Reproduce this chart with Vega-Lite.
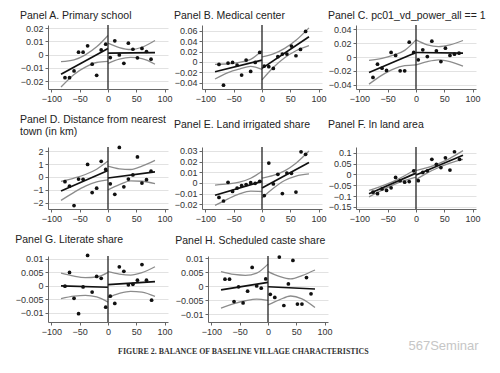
{
"$schema": "https://vega.github.io/schema/vega-lite/v6.json",
"background": "white",
"padding": {"left": 15, "top": 10, "right": 10, "bottom": 6},
"data": {"values": [
{"p":"A","k":"p","x":-76,"y":-0.0175},{"p":"A","k":"p","x":-68,"y":-0.0175},{"p":"A","k":"p","x":-60,"y":-0.0124},{"p":"A","k":"p","x":-52,"y":0.0018},{"p":"A","k":"p","x":-44,"y":0.0018},{"p":"A","k":"p","x":-36,"y":0.0066},{"p":"A","k":"p","x":-28,"y":-0.0073},{"p":"A","k":"p","x":-20,"y":-0.0157},{"p":"A","k":"p","x":-12,"y":0.0035},{"p":"A","k":"p","x":-4,"y":0.0078},
{"p":"A","k":"p","x":4,"y":-0.0023},{"p":"A","k":"p","x":12,"y":0.0104},{"p":"A","k":"p","x":20,"y":-0.0003},{"p":"A","k":"p","x":28,"y":-0.0066},{"p":"A","k":"p","x":36,"y":0.0086},{"p":"A","k":"p","x":44,"y":0.004},{"p":"A","k":"p","x":52,"y":-0.0025},{"p":"A","k":"p","x":60,"y":0.0046},{"p":"A","k":"p","x":68,"y":0.0023},{"p":"A","k":"p","x":76,"y":-0.0035},
{"p":"A","k":"f","g":"L","x":-83,"y":-0.0149},{"p":"A","k":"f","g":"L","x":0,"y":0.0046},{"p":"A","k":"f","g":"R","x":0,"y":0.001},{"p":"A","k":"f","g":"R","x":83,"y":0.0015},
{"p":"A","k":"c","g":"Lu","x":-83,"y":-0.0053},{"p":"A","k":"c","g":"Lu","x":-60,"y":-0.004},{"p":"A","k":"c","g":"Lu","x":-40,"y":-0.0002},{"p":"A","k":"c","g":"Lu","x":-20,"y":0.0058},{"p":"A","k":"c","g":"Lu","x":0,"y":0.0144},
{"p":"A","k":"c","g":"Ll","x":-83,"y":-0.0245},{"p":"A","k":"c","g":"Ll","x":-60,"y":-0.015},{"p":"A","k":"c","g":"Ll","x":-40,"y":-0.0095},{"p":"A","k":"c","g":"Ll","x":-20,"y":-0.006},{"p":"A","k":"c","g":"Ll","x":0,"y":-0.0052},
{"p":"A","k":"c","g":"Ru","x":0,"y":0.0086},{"p":"A","k":"c","g":"Ru","x":20,"y":0.0053},{"p":"A","k":"c","g":"Ru","x":40,"y":0.0038},{"p":"A","k":"c","g":"Ru","x":60,"y":0.0055},{"p":"A","k":"c","g":"Ru","x":83,"y":0.0106},
{"p":"A","k":"c","g":"Rl","x":0,"y":-0.0066},{"p":"A","k":"c","g":"Rl","x":20,"y":-0.0035},{"p":"A","k":"c","g":"Rl","x":40,"y":-0.0022},{"p":"A","k":"c","g":"Rl","x":60,"y":-0.003},{"p":"A","k":"c","g":"Rl","x":83,"y":-0.0073},

{"p":"B","k":"p","x":-76,"y":-0.0047},{"p":"B","k":"p","x":-68,"y":-0.0446},{"p":"B","k":"p","x":-60,"y":-0.0022},{"p":"B","k":"p","x":-52,"y":-0.0009},{"p":"B","k":"p","x":-44,"y":-0.006},{"p":"B","k":"p","x":-36,"y":-0.0253},{"p":"B","k":"p","x":-28,"y":0.0036},{"p":"B","k":"p","x":-20,"y":-0.0182},{"p":"B","k":"p","x":-12,"y":-0.0009},{"p":"B","k":"p","x":-4,"y":0.0183},
{"p":"B","k":"p","x":4,"y":-0.008},{"p":"B","k":"p","x":12,"y":-0.0092},{"p":"B","k":"p","x":20,"y":-0.0124},{"p":"B","k":"p","x":28,"y":0.01},{"p":"B","k":"p","x":36,"y":0.0151},{"p":"B","k":"p","x":44,"y":0.0151},{"p":"B","k":"p","x":52,"y":0.0305},{"p":"B","k":"p","x":60,"y":0.0119},{"p":"B","k":"p","x":68,"y":0.0241},{"p":"B","k":"p","x":77,"y":0.0587},
{"p":"B","k":"f","g":"L","x":-83,"y":-0.0188},{"p":"B","k":"f","g":"L","x":0,"y":0.0036},{"p":"B","k":"f","g":"R","x":0,"y":-0.0124},{"p":"B","k":"f","g":"R","x":83,"y":0.0485},
{"p":"B","k":"c","g":"Lu","x":-83,"y":-0.0048},{"p":"B","k":"c","g":"Lu","x":-60,"y":-0.0035},{"p":"B","k":"c","g":"Lu","x":-40,"y":-0.0007},{"p":"B","k":"c","g":"Lu","x":-20,"y":0.005},{"p":"B","k":"c","g":"Lu","x":0,"y":0.0215},
{"p":"B","k":"c","g":"Ll","x":-83,"y":-0.0328},{"p":"B","k":"c","g":"Ll","x":-60,"y":-0.0205},{"p":"B","k":"c","g":"Ll","x":-40,"y":-0.0137},{"p":"B","k":"c","g":"Ll","x":-20,"y":-0.0086},{"p":"B","k":"c","g":"Ll","x":0,"y":-0.0144},
{"p":"B","k":"c","g":"Ru","x":0,"y":0.0096},{"p":"B","k":"c","g":"Ru","x":20,"y":0.0153},{"p":"B","k":"c","g":"Ru","x":40,"y":0.026},{"p":"B","k":"c","g":"Ru","x":60,"y":0.0416},{"p":"B","k":"c","g":"Ru","x":83,"y":0.0655},
{"p":"B","k":"c","g":"Rl","x":0,"y":-0.0344},{"p":"B","k":"c","g":"Rl","x":20,"y":-0.0107},{"p":"B","k":"c","g":"Rl","x":40,"y":0.008},{"p":"B","k":"c","g":"Rl","x":60,"y":0.0216},{"p":"B","k":"c","g":"Rl","x":83,"y":0.0315},

{"p":"C","k":"p","x":-76,"y":-0.0294},{"p":"C","k":"p","x":-68,"y":-0.0103},{"p":"C","k":"p","x":-60,"y":-0.016},{"p":"C","k":"p","x":-52,"y":-0.0194},{"p":"C","k":"p","x":-44,"y":0.0065},{"p":"C","k":"p","x":-36,"y":0.0022},{"p":"C","k":"p","x":-28,"y":-0.0199},{"p":"C","k":"p","x":-20,"y":-0.0199},{"p":"C","k":"p","x":-12,"y":0.0213},{"p":"C","k":"p","x":-4,"y":0.0065},
{"p":"C","k":"p","x":4,"y":-0.004},{"p":"C","k":"p","x":12,"y":0.0103},{"p":"C","k":"p","x":20,"y":0.0007},{"p":"C","k":"p","x":28,"y":0.0227},{"p":"C","k":"p","x":36,"y":0.0089},{"p":"C","k":"p","x":44,"y":-0.0065},{"p":"C","k":"p","x":52,"y":0.0127},{"p":"C","k":"p","x":60,"y":0.0022},{"p":"C","k":"p","x":68,"y":0.0041},{"p":"C","k":"p","x":76,"y":0.0055},
{"p":"C","k":"f","g":"L","x":-83,"y":-0.0222},{"p":"C","k":"f","g":"L","x":0,"y":0.0065},{"p":"C","k":"f","g":"R","x":0,"y":0.0065},{"p":"C","k":"f","g":"R","x":83,"y":0.0055},
{"p":"C","k":"c","g":"Lu","x":-83,"y":-0.005},{"p":"C","k":"c","g":"Lu","x":-60,"y":-0.002},{"p":"C","k":"c","g":"Lu","x":-40,"y":0.0027},{"p":"C","k":"c","g":"Lu","x":-20,"y":0.0095},{"p":"C","k":"c","g":"Lu","x":0,"y":0.0246},
{"p":"C","k":"c","g":"Ll","x":-83,"y":-0.039},{"p":"C","k":"c","g":"Ll","x":-60,"y":-0.026},{"p":"C","k":"c","g":"Ll","x":-40,"y":-0.0173},{"p":"C","k":"c","g":"Ll","x":-20,"y":-0.0125},{"p":"C","k":"c","g":"Ll","x":0,"y":-0.0112},
{"p":"C","k":"c","g":"Ru","x":0,"y":0.0246},{"p":"C","k":"c","g":"Ru","x":20,"y":0.0175},{"p":"C","k":"c","g":"Ru","x":40,"y":0.015},{"p":"C","k":"c","g":"Ru","x":60,"y":0.0175},{"p":"C","k":"c","g":"Ru","x":83,"y":0.0237},
{"p":"C","k":"c","g":"Rl","x":0,"y":-0.0112},{"p":"C","k":"c","g":"Rl","x":20,"y":-0.0065},{"p":"C","k":"c","g":"Rl","x":40,"y":-0.004},{"p":"C","k":"c","g":"Rl","x":60,"y":-0.0065},{"p":"C","k":"c","g":"Rl","x":83,"y":-0.013},

{"p":"D","k":"p","x":-76,"y":-0.37},{"p":"D","k":"p","x":-68,"y":-0.71},{"p":"D","k":"p","x":-60,"y":-2.21},{"p":"D","k":"p","x":-52,"y":-0.16},{"p":"D","k":"p","x":-44,"y":-0.18},{"p":"D","k":"p","x":-36,"y":0.97},{"p":"D","k":"p","x":-28,"y":-1.21},{"p":"D","k":"p","x":-20,"y":-0.87},{"p":"D","k":"p","x":-12,"y":1.21},{"p":"D","k":"p","x":-4,"y":0.58},
{"p":"D","k":"p","x":4,"y":-0.53},{"p":"D","k":"p","x":12,"y":-1.34},{"p":"D","k":"p","x":20,"y":2.29},{"p":"D","k":"p","x":28,"y":-0.76},{"p":"D","k":"p","x":36,"y":-0.16},{"p":"D","k":"p","x":44,"y":0.16},{"p":"D","k":"p","x":52,"y":1.55},{"p":"D","k":"p","x":60,"y":-0.47},{"p":"D","k":"p","x":68,"y":-0.21},{"p":"D","k":"p","x":76,"y":0.45},
{"p":"D","k":"f","g":"L","x":-83,"y":-1.08},{"p":"D","k":"f","g":"L","x":0,"y":0.5},{"p":"D","k":"f","g":"R","x":0,"y":-0.08},{"p":"D","k":"f","g":"R","x":83,"y":0.39},
{"p":"D","k":"c","g":"Lu","x":-83,"y":-0.35},{"p":"D","k":"c","g":"Lu","x":-60,"y":-0.09},{"p":"D","k":"c","g":"Lu","x":-40,"y":0.19},{"p":"D","k":"c","g":"Lu","x":-20,"y":0.6},{"p":"D","k":"c","g":"Lu","x":0,"y":1.23},
{"p":"D","k":"c","g":"Ll","x":-83,"y":-1.81},{"p":"D","k":"c","g":"Ll","x":-60,"y":-1.19},{"p":"D","k":"c","g":"Ll","x":-40,"y":-0.71},{"p":"D","k":"c","g":"Ll","x":-20,"y":-0.38},{"p":"D","k":"c","g":"Ll","x":0,"y":-0.23},
{"p":"D","k":"c","g":"Ru","x":0,"y":0.84},{"p":"D","k":"c","g":"Ru","x":20,"y":0.63},{"p":"D","k":"c","g":"Ru","x":40,"y":0.58},{"p":"D","k":"c","g":"Ru","x":60,"y":0.84},{"p":"D","k":"c","g":"Ru","x":83,"y":1.29},
{"p":"D","k":"c","g":"Rl","x":0,"y":-1.0},{"p":"D","k":"c","g":"Rl","x":20,"y":-0.6},{"p":"D","k":"c","g":"Rl","x":40,"y":-0.3},{"p":"D","k":"c","g":"Rl","x":60,"y":-0.33},{"p":"D","k":"c","g":"Rl","x":83,"y":-0.52},

{"p":"E","k":"p","x":-76,"y":-0.0137},{"p":"E","k":"p","x":-68,"y":-0.017},{"p":"E","k":"p","x":-60,"y":0.0005},{"p":"E","k":"p","x":-52,"y":-0.008},{"p":"E","k":"p","x":-44,"y":-0.0049},{"p":"E","k":"p","x":-36,"y":-0.0025},{"p":"E","k":"p","x":-28,"y":-0.0016},{"p":"E","k":"p","x":-20,"y":0.0002},{"p":"E","k":"p","x":-12,"y":-0.0004},{"p":"E","k":"p","x":-4,"y":0.0014},
{"p":"E","k":"p","x":4,"y":-0.0119},{"p":"E","k":"p","x":12,"y":0.0185},{"p":"E","k":"p","x":20,"y":-0.001},{"p":"E","k":"p","x":28,"y":0.008},{"p":"E","k":"p","x":36,"y":-0.01},{"p":"E","k":"p","x":44,"y":0.0092},{"p":"E","k":"p","x":52,"y":0.0089},{"p":"E","k":"p","x":60,"y":-0.0086},{"p":"E","k":"p","x":69,"y":0.0291},{"p":"E","k":"p","x":77,"y":0.0267},
{"p":"E","k":"f","g":"L","x":-83,"y":-0.0116},{"p":"E","k":"f","g":"L","x":0,"y":0.0014},{"p":"E","k":"f","g":"R","x":0,"y":-0.0049},{"p":"E","k":"f","g":"R","x":83,"y":0.0191},
{"p":"E","k":"c","g":"Lu","x":-83,"y":-0.0021},{"p":"E","k":"c","g":"Lu","x":-60,"y":-0.001},{"p":"E","k":"c","g":"Lu","x":-40,"y":0.0006},{"p":"E","k":"c","g":"Lu","x":-20,"y":0.0043},{"p":"E","k":"c","g":"Lu","x":0,"y":0.0109},
{"p":"E","k":"c","g":"Ll","x":-83,"y":-0.0211},{"p":"E","k":"c","g":"Ll","x":-60,"y":-0.015},{"p":"E","k":"c","g":"Ll","x":-40,"y":-0.0104},{"p":"E","k":"c","g":"Ll","x":-20,"y":-0.0077},{"p":"E","k":"c","g":"Ll","x":0,"y":-0.0081},
{"p":"E","k":"c","g":"Ru","x":0,"y":0.0044},{"p":"E","k":"c","g":"Ru","x":20,"y":0.0069},{"p":"E","k":"c","g":"Ru","x":40,"y":0.0112},{"p":"E","k":"c","g":"Ru","x":60,"y":0.0184},{"p":"E","k":"c","g":"Ru","x":83,"y":0.0298},
{"p":"E","k":"c","g":"Rl","x":0,"y":-0.0142},{"p":"E","k":"c","g":"Rl","x":20,"y":-0.0051},{"p":"E","k":"c","g":"Rl","x":40,"y":0.0022},{"p":"E","k":"c","g":"Rl","x":60,"y":0.0064},{"p":"E","k":"c","g":"Rl","x":83,"y":0.0084},

{"p":"F","k":"p","x":-76,"y":-0.082},{"p":"F","k":"p","x":-68,"y":-0.089},{"p":"F","k":"p","x":-60,"y":-0.067},{"p":"F","k":"p","x":-52,"y":-0.074},{"p":"F","k":"p","x":-44,"y":-0.062},{"p":"F","k":"p","x":-36,"y":-0.014},{"p":"F","k":"p","x":-28,"y":-0.029},{"p":"F","k":"p","x":-20,"y":-0.036},{"p":"F","k":"p","x":-12,"y":-0.033},{"p":"F","k":"p","x":-4,"y":0.017},
{"p":"F","k":"p","x":4,"y":-0.029},{"p":"F","k":"p","x":12,"y":0.009},{"p":"F","k":"p","x":20,"y":0.017},{"p":"F","k":"p","x":28,"y":0.07},{"p":"F","k":"p","x":36,"y":0.047},{"p":"F","k":"p","x":44,"y":0.032},{"p":"F","k":"p","x":52,"y":0.077},{"p":"F","k":"p","x":60,"y":0.02},{"p":"F","k":"p","x":68,"y":0.105},{"p":"F","k":"p","x":77,"y":0.07},
{"p":"F","k":"f","g":"L","x":-83,"y":-0.089},{"p":"F","k":"f","g":"L","x":0,"y":0.006},{"p":"F","k":"f","g":"R","x":0,"y":-0.003},{"p":"F","k":"f","g":"R","x":83,"y":0.089},
{"p":"F","k":"c","g":"Lu","x":-83,"y":-0.074},{"p":"F","k":"c","g":"Lu","x":-60,"y":-0.053},{"p":"F","k":"c","g":"Lu","x":-40,"y":-0.032},{"p":"F","k":"c","g":"Lu","x":-20,"y":-0.006},{"p":"F","k":"c","g":"Lu","x":0,"y":0.024},
{"p":"F","k":"c","g":"Ll","x":-83,"y":-0.104},{"p":"F","k":"c","g":"Ll","x":-60,"y":-0.073},{"p":"F","k":"c","g":"Ll","x":-40,"y":-0.048},{"p":"F","k":"c","g":"Ll","x":-20,"y":-0.028},{"p":"F","k":"c","g":"Ll","x":0,"y":-0.012},
{"p":"F","k":"c","g":"Ru","x":0,"y":0.018},{"p":"F","k":"c","g":"Ru","x":20,"y":0.031},{"p":"F","k":"c","g":"Ru","x":40,"y":0.05},{"p":"F","k":"c","g":"Ru","x":60,"y":0.0745},{"p":"F","k":"c","g":"Ru","x":83,"y":0.11},
{"p":"F","k":"c","g":"Rl","x":0,"y":-0.024},{"p":"F","k":"c","g":"Rl","x":20,"y":0.007},{"p":"F","k":"c","g":"Rl","x":40,"y":0.032},{"p":"F","k":"c","g":"Rl","x":60,"y":0.0525},{"p":"F","k":"c","g":"Rl","x":83,"y":0.07},

{"p":"G","k":"p","x":-76,"y":-0.0001},{"p":"G","k":"p","x":-68,"y":0.005},{"p":"G","k":"p","x":-60,"y":-0.0046},{"p":"G","k":"p","x":-52,"y":-0.0103},{"p":"G","k":"p","x":-44,"y":-0.0004},{"p":"G","k":"p","x":-36,"y":0.0113},{"p":"G","k":"p","x":-28,"y":-0.0023},{"p":"G","k":"p","x":-20,"y":0.0035},{"p":"G","k":"p","x":-12,"y":0.0028},{"p":"G","k":"p","x":-4,"y":-0.0079},
{"p":"G","k":"p","x":4,"y":-0.0038},{"p":"G","k":"p","x":12,"y":-0.0065},{"p":"G","k":"p","x":20,"y":0.0071},{"p":"G","k":"p","x":28,"y":0.0054},{"p":"G","k":"p","x":36,"y":0.0004},{"p":"G","k":"p","x":44,"y":0.0006},{"p":"G","k":"p","x":52,"y":0.0021},{"p":"G","k":"p","x":60,"y":0.0079},{"p":"G","k":"p","x":68,"y":0.0021},{"p":"G","k":"p","x":77,"y":-0.0053},
{"p":"G","k":"f","g":"L","x":-83,"y":0},{"p":"G","k":"f","g":"L","x":0,"y":-0.0005},{"p":"G","k":"f","g":"R","x":0,"y":0.0005},{"p":"G","k":"f","g":"R","x":83,"y":0.0016},
{"p":"G","k":"c","g":"Lu","x":-83,"y":0.0047},{"p":"G","k":"c","g":"Lu","x":-60,"y":0.0036},{"p":"G","k":"c","g":"Lu","x":-40,"y":0.0031},{"p":"G","k":"c","g":"Lu","x":-20,"y":0.0033},{"p":"G","k":"c","g":"Lu","x":0,"y":0.005},
{"p":"G","k":"c","g":"Ll","x":-83,"y":-0.0047},{"p":"G","k":"c","g":"Ll","x":-60,"y":-0.0038},{"p":"G","k":"c","g":"Ll","x":-40,"y":-0.0035},{"p":"G","k":"c","g":"Ll","x":-20,"y":-0.0041},{"p":"G","k":"c","g":"Ll","x":0,"y":-0.006},
{"p":"G","k":"c","g":"Ru","x":0,"y":0.0053},{"p":"G","k":"c","g":"Ru","x":20,"y":0.0044},{"p":"G","k":"c","g":"Ru","x":40,"y":0.004},{"p":"G","k":"c","g":"Ru","x":60,"y":0.0049},{"p":"G","k":"c","g":"Ru","x":83,"y":0.0071},
{"p":"G","k":"c","g":"Rl","x":0,"y":-0.0043},{"p":"G","k":"c","g":"Rl","x":20,"y":-0.0028},{"p":"G","k":"c","g":"Rl","x":40,"y":-0.002},{"p":"G","k":"c","g":"Rl","x":60,"y":-0.0023},{"p":"G","k":"c","g":"Rl","x":83,"y":-0.0039},

{"p":"H","k":"p","x":-76,"y":0.0025},{"p":"H","k":"p","x":-68,"y":0.0025},{"p":"H","k":"p","x":-60,"y":-0.0055},{"p":"H","k":"p","x":-52,"y":-0.0002},{"p":"H","k":"p","x":-44,"y":-0.006},{"p":"H","k":"p","x":-36,"y":-0.0018},{"p":"H","k":"p","x":-28,"y":0.0067},{"p":"H","k":"p","x":-20,"y":0.0001},{"p":"H","k":"p","x":-12,"y":-0.0007},{"p":"H","k":"p","x":-4,"y":0.0026},
{"p":"H","k":"p","x":4,"y":-0.0029},{"p":"H","k":"p","x":12,"y":-0.004},{"p":"H","k":"p","x":20,"y":0.0104},{"p":"H","k":"p","x":28,"y":-0.0069},{"p":"H","k":"p","x":36,"y":0.0008},{"p":"H","k":"p","x":44,"y":0.0092},{"p":"H","k":"p","x":52,"y":-0.0064},{"p":"H","k":"p","x":60,"y":-0.0064},{"p":"H","k":"p","x":68,"y":0.0031},{"p":"H","k":"p","x":76,"y":-0.0027},
{"p":"H","k":"f","g":"L","x":-83,"y":-0.0013},{"p":"H","k":"f","g":"L","x":0,"y":0.0014},{"p":"H","k":"f","g":"R","x":0,"y":-0.0002},{"p":"H","k":"f","g":"R","x":83,"y":-0.001},
{"p":"H","k":"c","g":"Lu","x":-83,"y":0.0052},{"p":"H","k":"c","g":"Lu","x":-60,"y":0.0042},{"p":"H","k":"c","g":"Lu","x":-40,"y":0.0039},{"p":"H","k":"c","g":"Lu","x":-20,"y":0.0047},{"p":"H","k":"c","g":"Lu","x":0,"y":0.0079},
{"p":"H","k":"c","g":"Ll","x":-83,"y":-0.0078},{"p":"H","k":"c","g":"Ll","x":-60,"y":-0.0062},{"p":"H","k":"c","g":"Ll","x":-40,"y":-0.0052},{"p":"H","k":"c","g":"Ll","x":-20,"y":-0.0046},{"p":"H","k":"c","g":"Ll","x":0,"y":-0.0051},
{"p":"H","k":"c","g":"Ru","x":0,"y":0.0052},{"p":"H","k":"c","g":"Ru","x":20,"y":0.0035},{"p":"H","k":"c","g":"Ru","x":40,"y":0.0026},{"p":"H","k":"c","g":"Ru","x":60,"y":0.0038},{"p":"H","k":"c","g":"Ru","x":83,"y":0.0058},
{"p":"H","k":"c","g":"Rl","x":0,"y":-0.0067},{"p":"H","k":"c","g":"Rl","x":20,"y":-0.0049},{"p":"H","k":"c","g":"Rl","x":40,"y":-0.0035},{"p":"H","k":"c","g":"Rl","x":60,"y":-0.0045},{"p":"H","k":"c","g":"Rl","x":83,"y":-0.0076}
]},
"title": {"text": "FIGURE 2. BALANCE OF BASELINE VILLAGE CHARACTERISTICS", "orient": "bottom", "anchor": "middle", "font": "Liberation Serif", "fontSize": 7.9, "fontWeight": "bold", "color": "#333", "offset": -5, "dx": -7},
"vconcat": [
{
"title": {"text": "567Seminar", "orient": "bottom", "anchor": "end", "font": "Liberation Sans", "fontSize": 13, "fontWeight": "normal", "color": "#c6c6c6", "offset": 4, "dx": -7},
"bounds": "full",
"align": "none",
"columns": 1,
"spacing": 12,
"concat": [
{"hconcat": [
{"width":120,"height":64,"title":{"text":"Panel A. Primary school","offset":3},
 "transform":[{"filter":"datum.p==='A'"}],
 "encoding":{"x":{"field":"x","type":"quantitative","title":null,"scale":{"domain":[-106,106],"nice":false},"axis":{"values":[-100,-50,0,50,100],"format":"d"}}},
 "layer":[
  {"encoding":{"y":{"field":"y","type":"quantitative","title":null,"scale":{"domain":[-0.026,0.0223],"nice":false,"zero":false},"axis":{"tickCount":5,"format":".3~f","minExtent":28,"labelOverlap":false}}},
   "layer":[
    {"transform":[{"filter":"datum.k==='c'"}],"mark":{"type":"line","color":"#8c8c8c","strokeWidth":1.3,"interpolate":"monotone"},"encoding":{"detail":{"field":"g"}}},
    {"transform":[{"filter":"datum.k==='f'"}],"mark":{"type":"line","color":"#111","strokeWidth":1.7},"encoding":{"detail":{"field":"g"}}},
    {"transform":[{"filter":"datum.k==='p'"}],"mark":{"type":"circle","color":"#111","size":14,"opacity":1},"encoding":{}}
   ]},
  {"transform":[{"filter":"datum.k==='f' && datum.g==='R' && datum.x===0"}],"mark":{"type":"rule","color":"#222","strokeWidth":1.3},"encoding":{}}
 ]},
{"width":120,"height":64,"title":{"text":"Panel B. Medical center","offset":3},
 "transform":[{"filter":"datum.p==='B'"}],
 "encoding":{"x":{"field":"x","type":"quantitative","title":null,"scale":{"domain":[-106,106],"nice":false},"axis":{"values":[-100,-50,0,50,100],"format":"d"}}},
 "layer":[
  {"encoding":{"y":{"field":"y","type":"quantitative","title":null,"scale":{"domain":[-0.052,0.071],"nice":false,"zero":false},"axis":{"tickCount":6,"format":".3~f","minExtent":28,"labelOverlap":false}}},
   "layer":[
    {"transform":[{"filter":"datum.k==='c'"}],"mark":{"type":"line","color":"#8c8c8c","strokeWidth":1.3,"interpolate":"monotone"},"encoding":{"detail":{"field":"g"}}},
    {"transform":[{"filter":"datum.k==='f'"}],"mark":{"type":"line","color":"#111","strokeWidth":1.7},"encoding":{"detail":{"field":"g"}}},
    {"transform":[{"filter":"datum.k==='p'"}],"mark":{"type":"circle","color":"#111","size":14,"opacity":1},"encoding":{}}
   ]},
  {"transform":[{"filter":"datum.k==='f' && datum.g==='R' && datum.x===0"}],"mark":{"type":"rule","color":"#222","strokeWidth":1.3},"encoding":{}}
 ]},
{"width":120,"height":64,"title":{"text":"Panel C. pc01_vd_power_all == 1","offset":3},
 "transform":[{"filter":"datum.p==='C'"}],
 "encoding":{"x":{"field":"x","type":"quantitative","title":null,"scale":{"domain":[-106,106],"nice":false},"axis":{"values":[-100,-50,0,50,100],"format":"d"}}},
 "layer":[
  {"encoding":{"y":{"field":"y","type":"quantitative","title":null,"scale":{"domain":[-0.046,0.046],"nice":false,"zero":false},"axis":{"tickCount":5,"format":".3~f","minExtent":28,"labelOverlap":false}}},
   "layer":[
    {"transform":[{"filter":"datum.k==='c'"}],"mark":{"type":"line","color":"#8c8c8c","strokeWidth":1.3,"interpolate":"monotone"},"encoding":{"detail":{"field":"g"}}},
    {"transform":[{"filter":"datum.k==='f'"}],"mark":{"type":"line","color":"#111","strokeWidth":1.7},"encoding":{"detail":{"field":"g"}}},
    {"transform":[{"filter":"datum.k==='p'"}],"mark":{"type":"circle","color":"#111","size":14,"opacity":1},"encoding":{}}
   ]},
  {"transform":[{"filter":"datum.k==='f' && datum.g==='R' && datum.x===0"}],"mark":{"type":"rule","color":"#222","strokeWidth":1.3},"encoding":{}}
 ]}
], "spacing": 34, "bounds": "flush"},
{"hconcat": [
{"width":120,"height":62,"title":{"text":["Panel D. Distance from nearest","town (in km)"],"offset":8,"lineHeight":12},
 "transform":[{"filter":"datum.p==='D'"}],
 "encoding":{"x":{"field":"x","type":"quantitative","title":null,"scale":{"domain":[-106,106],"nice":false},"axis":{"values":[-100,-50,0,50,100],"format":"d"}}},
 "layer":[
  {"encoding":{"y":{"field":"y","type":"quantitative","title":null,"scale":{"domain":[-2.48,2.32],"nice":false,"zero":false},"axis":{"tickCount":5,"format":".3~f","minExtent":28,"labelOverlap":false}}},
   "layer":[
    {"transform":[{"filter":"datum.k==='c'"}],"mark":{"type":"line","color":"#8c8c8c","strokeWidth":1.3,"interpolate":"monotone"},"encoding":{"detail":{"field":"g"}}},
    {"transform":[{"filter":"datum.k==='f'"}],"mark":{"type":"line","color":"#111","strokeWidth":1.7},"encoding":{"detail":{"field":"g"}}},
    {"transform":[{"filter":"datum.k==='p'"}],"mark":{"type":"circle","color":"#111","size":14,"opacity":1},"encoding":{}}
   ]},
  {"transform":[{"filter":"datum.k==='f' && datum.g==='R' && datum.x===0"}],"mark":{"type":"rule","color":"#222","strokeWidth":1.3},"encoding":{}}
 ]},
{"width":120,"height":62,"title":{"text":"Panel E. Land irrigated share","offset":16},
 "transform":[{"filter":"datum.p==='E'"}],
 "encoding":{"x":{"field":"x","type":"quantitative","title":null,"scale":{"domain":[-106,106],"nice":false},"axis":{"values":[-100,-50,0,50,100],"format":"d"}}},
 "layer":[
  {"encoding":{"y":{"field":"y","type":"quantitative","title":null,"scale":{"domain":[-0.0245,0.0336],"nice":false,"zero":false},"axis":{"tickCount":6,"format":".3~f","minExtent":28,"labelOverlap":false}}},
   "layer":[
    {"transform":[{"filter":"datum.k==='c'"}],"mark":{"type":"line","color":"#8c8c8c","strokeWidth":1.3,"interpolate":"monotone"},"encoding":{"detail":{"field":"g"}}},
    {"transform":[{"filter":"datum.k==='f'"}],"mark":{"type":"line","color":"#111","strokeWidth":1.7},"encoding":{"detail":{"field":"g"}}},
    {"transform":[{"filter":"datum.k==='p'"}],"mark":{"type":"circle","color":"#111","size":14,"opacity":1},"encoding":{}}
   ]},
  {"transform":[{"filter":"datum.k==='f' && datum.g==='R' && datum.x===0"}],"mark":{"type":"rule","color":"#222","strokeWidth":1.3},"encoding":{}}
 ]},
{"width":120,"height":62,"title":{"text":"Panel F. ln land area","offset":16},
 "transform":[{"filter":"datum.p==='F'"}],
 "encoding":{"x":{"field":"x","type":"quantitative","title":null,"scale":{"domain":[-106,106],"nice":false},"axis":{"values":[-100,-50,0,50,100],"format":"d"}}},
 "layer":[
  {"encoding":{"y":{"field":"y","type":"quantitative","title":null,"scale":{"domain":[-0.16,0.127],"nice":false,"zero":false},"axis":{"tickCount":6,"format":".3~f","minExtent":28,"labelOverlap":false}}},
   "layer":[
    {"transform":[{"filter":"datum.k==='c'"}],"mark":{"type":"line","color":"#8c8c8c","strokeWidth":1.3,"interpolate":"monotone"},"encoding":{"detail":{"field":"g"}}},
    {"transform":[{"filter":"datum.k==='f'"}],"mark":{"type":"line","color":"#111","strokeWidth":1.7},"encoding":{"detail":{"field":"g"}}},
    {"transform":[{"filter":"datum.k==='p'"}],"mark":{"type":"circle","color":"#111","size":14,"opacity":1},"encoding":{}}
   ]},
  {"transform":[{"filter":"datum.k==='f' && datum.g==='R' && datum.x===0"}],"mark":{"type":"rule","color":"#222","strokeWidth":1.3},"encoding":{}}
 ]}
], "spacing": 34, "bounds": "flush"},
{"hconcat": [
{"width":120,"height":66,"title":{"text":"Panel G. Literate share","offset":8},
 "transform":[{"filter":"datum.p==='G'"}],
 "encoding":{"x":{"field":"x","type":"quantitative","title":null,"scale":{"domain":[-106,106],"nice":false},"axis":{"values":[-100,-50,0,50,100],"format":"d"}}},
 "layer":[
  {"encoding":{"y":{"field":"y","type":"quantitative","title":null,"scale":{"domain":[-0.0134,0.0111],"nice":false,"zero":false},"axis":{"tickCount":5,"format":".3~f","minExtent":28,"labelOverlap":false}}},
   "layer":[
    {"transform":[{"filter":"datum.k==='c'"}],"mark":{"type":"line","color":"#8c8c8c","strokeWidth":1.3,"interpolate":"monotone"},"encoding":{"detail":{"field":"g"}}},
    {"transform":[{"filter":"datum.k==='f'"}],"mark":{"type":"line","color":"#111","strokeWidth":1.7},"encoding":{"detail":{"field":"g"}}},
    {"transform":[{"filter":"datum.k==='p'"}],"mark":{"type":"circle","color":"#111","size":14,"opacity":1},"encoding":{}}
   ]},
  {"transform":[{"filter":"datum.k==='f' && datum.g==='R' && datum.x===0"}],"mark":{"type":"rule","color":"#222","strokeWidth":1.3},"encoding":{}}
 ]},
{"width":120,"height":66,"title":{"text":"Panel H. Scheduled caste share","offset":8},
 "transform":[{"filter":"datum.p==='H'"}],
 "encoding":{"x":{"field":"x","type":"quantitative","title":null,"scale":{"domain":[-106,106],"nice":false},"axis":{"values":[-100,-50,0,50,100],"format":"d"}}},
 "layer":[
  {"encoding":{"y":{"field":"y","type":"quantitative","title":null,"scale":{"domain":[-0.0128,0.0108],"nice":false,"zero":false},"axis":{"tickCount":5,"format":".3~f","minExtent":28,"labelOverlap":false}}},
   "layer":[
    {"transform":[{"filter":"datum.k==='c'"}],"mark":{"type":"line","color":"#8c8c8c","strokeWidth":1.3,"interpolate":"monotone"},"encoding":{"detail":{"field":"g"}}},
    {"transform":[{"filter":"datum.k==='f'"}],"mark":{"type":"line","color":"#111","strokeWidth":1.7},"encoding":{"detail":{"field":"g"}}},
    {"transform":[{"filter":"datum.k==='p'"}],"mark":{"type":"circle","color":"#111","size":14,"opacity":1},"encoding":{}}
   ]},
  {"transform":[{"filter":"datum.k==='f' && datum.g==='R' && datum.x===0"}],"mark":{"type":"rule","color":"#222","strokeWidth":1.3},"encoding":{}}
 ]}
], "spacing": 40, "bounds": "flush"}
]
}
],
"config": {
 "view": {"stroke": null},
 "font": "Liberation Sans",
 "axis": {"labelFont": "Liberation Sans", "labelFontSize": 9, "labelColor": "#333", "domainColor": "#666", "tickColor": "#666", "tickSize": 3, "labelPadding": 2, "gridColor": "#e2e2e2", "domainWidth": 1},
 "axisX": {"grid": false},
 "axisY": {"grid": true},
 "title": {"font": "Liberation Sans", "fontSize": 10.5, "fontWeight": "normal", "color": "#222", "anchor": "start", "frame": "bounds"}
}
}
